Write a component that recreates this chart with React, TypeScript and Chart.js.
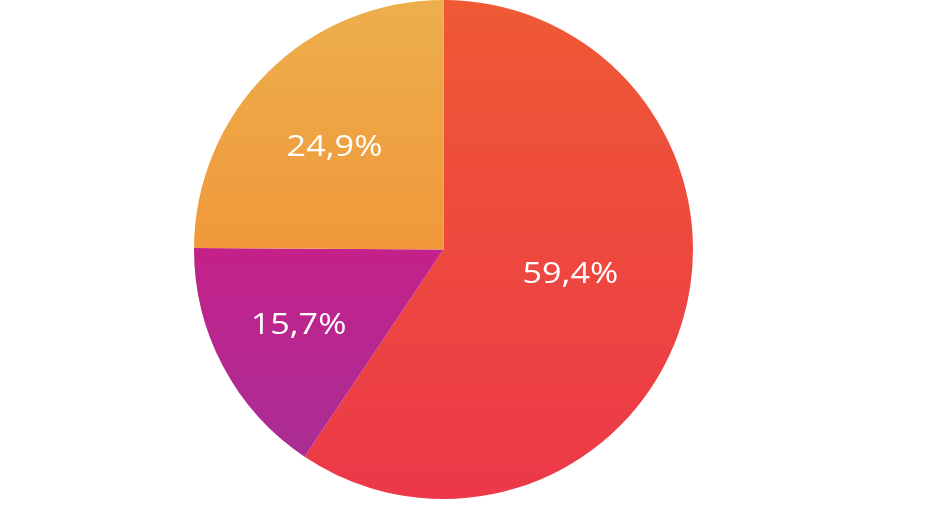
import React, { useEffect, useRef } from "react";
import { Chart, registerables } from "chart.js";

Chart.register(...registerables);

const categories = ["A", "B", "C"];
const values = [59.4, 15.7, 24.9];
const valueLabels = ["59,4%", "15,7%", "24,9%"];

// gradient stops per slice: [stop, color]
const gradientStops: [number, string][][] = [
  [[0, "#EF5934"], [1, "#EC3849"]],
  [[0.5, "#C4218A"], [0.93, "#A82E95"]],
  [[0, "#EDAF4C"], [0.5, "#F0983A"]],
];

// label placement relative to the slice: [radius factor, angle shift in degrees]
const labelPlacement: [number, number][] = [
  [0.517, -6.6],
  [0.652, 0.9],
  [0.605, -1.4],
];

const labelPlugin = {
  id: "sliceLabels",
  afterDatasetsDraw(chart: any) {
    const ctx = chart.ctx;
    const meta = chart.getDatasetMeta(0);
    meta.data.forEach((arc: any, i: number) => {
      const p = arc.getProps(["x", "y", "startAngle", "endAngle", "outerRadius"], true);
      const [rf, shift] = labelPlacement[i];
      const mid = (p.startAngle + p.endAngle) / 2 + (shift * Math.PI) / 180;
      const r = p.outerRadius * rf;
      const lx = p.x + Math.cos(mid) * r;
      const ly = p.y + Math.sin(mid) * r + 2;
      ctx.save();
      ctx.translate(lx, ly);
      ctx.scale(1.14, 1);
      ctx.fillStyle = "#ffffff";
      ctx.font = "500 30px 'Open Sans', sans-serif";
      ctx.textAlign = "center";
      ctx.textBaseline = "middle";
      ctx.fillText(valueLabels[i], 0, 0);
      ctx.restore();
    });
  },
};

export default function App() {
  const ref = useRef<HTMLCanvasElement | null>(null);
  useEffect(() => {
    if (!ref.current) return;
    const chart = new Chart(ref.current, {
      type: "pie",
      data: {
        labels: categories,
        datasets: [
          {
            data: values,
            borderWidth: 0,
            backgroundColor: (c: any) => {
              const area = c.chart.chartArea;
              const i = c.dataIndex;
              if (!area) return gradientStops[i][0][1];
              const g = c.chart.ctx.createLinearGradient(0, area.top, 0, area.bottom);
              gradientStops[i].forEach(([s, col]) => g.addColorStop(s, col));
              return g;
            },
          },
        ],
      },
      options: {
        animation: false,
        responsive: false,
        maintainAspectRatio: false,
        layout: { padding: { left: 194, right: 246, top: 0, bottom: 20 } },
        plugins: {
          legend: { display: false },
          tooltip: { enabled: false },
        },
      },
      plugins: [labelPlugin],
    });
    return () => chart.destroy();
  }, []);
  return (
    <div style={{ position: "fixed", left: 0, top: 0, width: 939, height: 519, background: "#fff" }}>
      <canvas ref={ref} width={939} height={519} style={{ width: 939, height: 519, display: "block" }} />
    </div>
  );
}
